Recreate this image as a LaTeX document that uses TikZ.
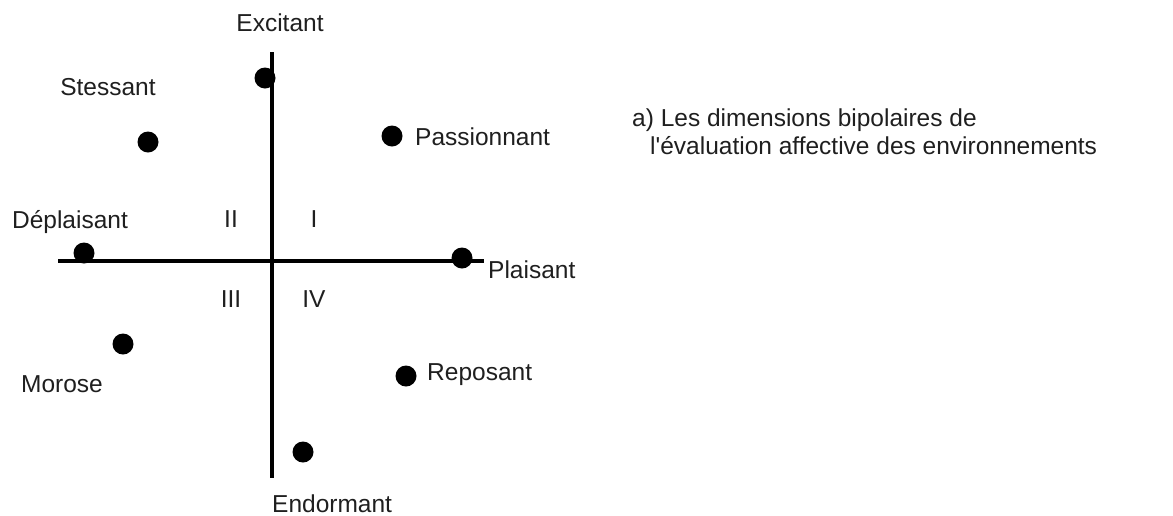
\documentclass[tikz,border=0pt]{standalone}
\usepackage{fontspec}
\setmainfont{Liberation Sans}
\newfontfamily\lsans{Liberation Sans}
\begin{document}
\begin{tikzpicture}[x=1pt,y=-1pt,
  dot/.style={circle,fill=black,draw=none,minimum size=21pt,inner sep=0pt},
  lbl/.style={inner sep=0pt,font=\lsans\fontsize{24.5}{29}\selectfont,text=black!88},
  axis/.style={line width=4.2pt,black}]
\useasboundingbox (0,0) rectangle (1173,515);
% axes
\coordinate (top) at (272,52);
\coordinate (bottom) at (272,478);
\coordinate (left) at (58,261);
\coordinate (right) at (484,261);
\draw[axis] (top) -- (bottom);
\draw[axis] (left) -- (right);
% dots
\node[dot] (dExc) at (265,78) {};
\node[dot] (dStr) at (148,142) {};
\node[dot] (dPas) at (392,136) {};
\node[dot] (dDep) at (84,253) {};
\node[dot] (dPla) at (462,258) {};
\node[dot] (dMor) at (123,344) {};
\node[dot] (dRep) at (406,376) {};
\node[dot] (dEnd) at (303,452) {};
% labels
\node[lbl,anchor=base] (tExc) at (280,31) {Excitant};
\node[lbl,anchor=base] (tStr) at (108,95) {Stessant};
\node[lbl,anchor=base west] (tPas) at (415,145) {Passionnant};
\node[lbl,anchor=base] (tDep) at (70,228) {Déplaisant};
\node[lbl,anchor=base west] (tPla) at (488,278) {Plaisant};
\node[lbl,anchor=base] (tMor) at (62,392) {Morose};
\node[lbl,anchor=base west] (tRep) at (427,380) {Reposant};
\node[lbl,anchor=base west] (tEnd) at (272,512) {Endormant};
% quadrants
\node[lbl,anchor=base] (qII) at (231,227) {II};
\node[lbl,anchor=base] (qI) at (314,227) {I};
\node[lbl,anchor=base] (qIII) at (231,307) {III};
\node[lbl,anchor=base] (qIV) at (314,307) {IV};
% caption
\node[lbl,anchor=base west] (cap1) at (632,126) {a) Les dimensions bipolaires de};
\node[lbl,anchor=base west] (cap2) at (650,154) {l'évaluation affective des environnements};
\end{tikzpicture}
\end{document}
